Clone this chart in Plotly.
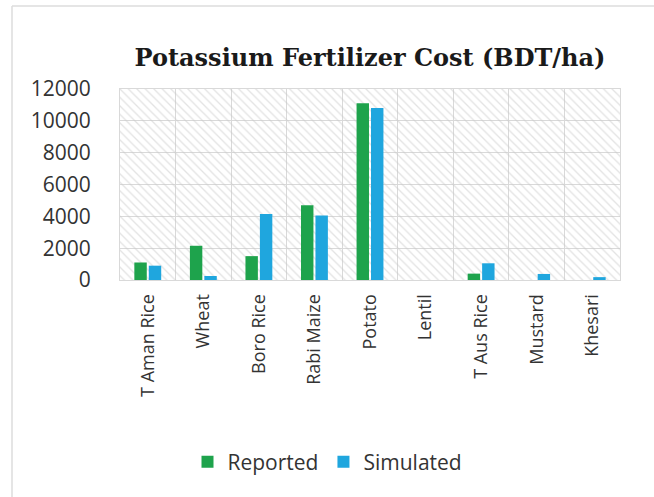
import plotly.graph_objects as go

# Crop categories and fertilizer cost values (BDT/ha)
crops = ["T Aman Rice", "Wheat", "Boro Rice", "Rabi Maize", "Potato",
         "Lentil", "T Aus Rice", "Mustard", "Khesari"]
reported = [1100, 2150, 1500, 4700, 11100, 0, 400, 0, 0]
simulated = [900, 250, 4150, 4050, 10800, 0, 1050, 380, 180]

y_ticks = [0, 2000, 4000, 6000, 8000, 10000, 12000]
y_tick_labels = [str(v) for v in y_ticks]

GREEN = "#1ea34c"
BLUE = "#1fa6de"
GRID = "#d9d9d9"
TEXT = "#333333"
TICK_FONT = "Open Sans"

fig = go.Figure()

# Hatched plot-area background on the base (hidden) axes
fig.add_trace(go.Bar(
    x=[0.5], y=[1], width=[1],
    xaxis="x", yaxis="y",
    marker=dict(color="rgba(0,0,0,0)", line=dict(width=0),
                pattern=dict(shape="\\", fgcolor="#c8c8c8", bgcolor="rgba(0,0,0,0)",
                             size=6, solidity=0.22)),
    showlegend=False, hoverinfo="skip",
))

# Data bars on the overlaid category axes
fig.add_trace(go.Bar(name="Reported", x=crops, y=reported,
                     xaxis="x2", yaxis="y2",
                     marker=dict(color=GREEN, line=dict(width=0))))
fig.add_trace(go.Bar(name="Simulated", x=crops, y=simulated,
                     xaxis="x2", yaxis="y2",
                     marker=dict(color=BLUE, line=dict(width=0))))

fig.update_layout(
    width=654, height=497,
    margin=dict(l=120, r=34, t=89, b=217),
    paper_bgcolor="white", plot_bgcolor="white",
    barmode="group", bargap=0.48, bargroupgap=0.14,
    title=dict(text="<b>Potassium Fertilizer Cost (BDT/ha)</b>",
               font=dict(family="DejaVu Serif", size=24, color="#1a1a1a"),
               x=0.5, xref="paper", xanchor="center",
               y=1 - 58 / 497, yref="container", yanchor="middle"),
    xaxis=dict(range=[0, 1], visible=False, fixedrange=True),
    yaxis=dict(range=[0, 1], visible=False, fixedrange=True),
    xaxis2=dict(type="category", overlaying="x", anchor="y2", side="bottom",
                categoryorder="array", categoryarray=crops,
                tickson="boundaries", showgrid=True, gridcolor=GRID, gridwidth=1,
                ticks="", tickangle=-90, ticklabelstandoff=6,
                tickfont=dict(family=TICK_FONT, size=18, color=TEXT),
                showline=True, linecolor=GRID, linewidth=1, mirror=True,
                zeroline=False),
    yaxis2=dict(overlaying="y", anchor="x2", side="left",
                range=[0, 12000], tickvals=y_ticks, ticktext=y_tick_labels,
                showgrid=True, gridcolor=GRID, gridwidth=1,
                ticks="", ticklabelstandoff=24,
                tickfont=dict(family=TICK_FONT, size=21, color=TEXT),
                showline=True, linecolor=GRID, linewidth=1, mirror=True,
                zeroline=False),
    legend=dict(orientation="h", x=0.415, xanchor="center", xref="paper",
                y=1 - 462 / 497, yref="container", yanchor="middle",
                font=dict(family=TICK_FONT, size=21, color=TEXT),
                itemwidth=30, traceorder="normal"),
    shapes=[
        # light frame along the top and left edges of the chart area
        dict(type="line", xref="paper", yref="paper",
             x0=-108 / 500, x1=1 + 34 / 500, y0=1 + 83 / 191, y1=1 + 83 / 191,
             line=dict(color="#dcdcdc", width=1.5), layer="below"),
        dict(type="line", xref="paper", yref="paper",
             x0=-108 / 500, x1=-108 / 500, y0=-217 / 191, y1=1 + 83 / 191,
             line=dict(color="#dcdcdc", width=1.5), layer="below"),
    ],
)

fig.write_html("out.html")
